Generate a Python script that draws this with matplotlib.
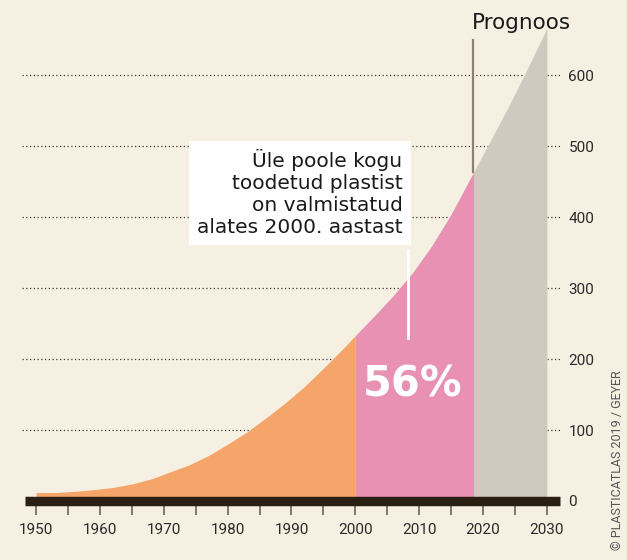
import numpy as np
import matplotlib
matplotlib.use("Agg")
import matplotlib.pyplot as plt

# cumulative plastic production (million tonnes)
years = [1950, 1953, 1956, 1959, 1962, 1965, 1968, 1971, 1974, 1977,
         1980, 1983, 1986, 1989, 1992, 1995, 1998, 2000, 2003, 2006,
         2009, 2012, 2015, 2018.5, 2021, 2024, 2027, 2030]
values = [12, 12, 13.5, 16, 19, 24, 31, 41, 51, 64,
          80, 97, 117, 138, 161, 187, 214, 233, 261, 290,
          322, 360, 404, 463, 505, 556, 610, 666]

split_2000 = 2000
split_forecast = 2018.5
share_label = "56%"
note_text = "Üle poole kogu\ntoodetud plastist\non valmistatud\nalates 2000. aastast"
forecast_label = "Prognoos"
credit = "© PLASTICATLAS 2019 / GEYER"

xticks = list(range(1950, 2031, 5))
xlabels = [str(y) if y % 10 == 0 else "" for y in xticks]
yticks = [0, 100, 200, 300, 400, 500, 600]

BG = "#f6f0e3"
ORANGE = "#f5a56a"
PINK = "#e891b3"
GREY = "#d0c9c0"
BAR = "#2b1f14"
NARROW = ["Roboto", "DejaVu Sans"]
TEXTFONT = ["DejaVu Sans"]

years = np.array(years)
values = np.array(values)

fig = plt.figure(figsize=(6.27, 5.6), dpi=100, facecolor=BG)
ax = fig.add_axes([22 / 627, 1 - 501 / 560, 538 / 627, 481 / 560])
ax.set_facecolor(BG)
ax.set_xlim(1947.8, 2032.05)
ax.set_ylim(0, 677.5)

m1 = years <= split_2000
m2 = (years >= split_2000) & (years <= split_forecast)
m3 = years >= split_forecast
ax.fill_between(years[m1], 0, values[m1], color=ORANGE, lw=0, zorder=2)
ax.fill_between(years[m2], 0, values[m2], color=PINK, lw=0, zorder=2)
ax.fill_between(years[m3], 0, values[m3], color=GREY, lw=0, zorder=2)

# dotted grid
for v in yticks[1:]:
    ax.axhline(v, color="#3a3a3a", lw=0.9, ls=(0, (1, 2)), zorder=1)

# thick baseline
ax.plot([1948.28, 2032.05], [0, 0], color=BAR, lw=6.8, solid_capstyle="butt",
        clip_on=False, zorder=4)

for s in ax.spines.values():
    s.set_visible(False)

ax.set_xticks(xticks)
ax.set_xticklabels(xlabels, fontfamily=NARROW, fontsize=11, color="#2a2a2a")
ax.tick_params(axis="x", direction="out", length=10, width=1.2, color="#6b6259", pad=6)
ax.yaxis.tick_right()
ax.set_yticks(yticks)
ax.set_yticklabels([str(v) for v in yticks], fontfamily=NARROW, fontsize=11, color="#2a2a2a")
ax.tick_params(axis="y", length=0, pad=6)

# forecast marker
y_top = values[years == split_forecast][0]
ax.plot([split_forecast, split_forecast], [y_top, 649], color="#8c8070", lw=1.6, zorder=3)
ax.text(2018.2, 673, forecast_label, ha="left", va="center", fontsize=15.5,
        fontfamily=TEXTFONT, color="#1a1a1a", clip_on=False)

# annotation box
ax.text(2007.4, 434, note_text, ha="right", va="center", fontsize=14.5,
        fontfamily=TEXTFONT, color="#1a1a1a", linespacing=1.2, zorder=5,
        bbox=dict(facecolor="white", edgecolor="none", pad=6))
ax.plot([2008.2, 2008.2], [230, 353], color="white", lw=2, zorder=3)
ax.text(2009.0, 164, share_label, ha="center", va="center", fontsize=30,
        fontweight="bold", fontfamily=TEXTFONT, color="white", zorder=5)

fig.text(618 / 627, 1 - 460 / 560, credit, rotation=90, ha="center", va="center",
         fontsize=9, fontfamily=NARROW, color="#555555")

fig.savefig("out.png", dpi=100, facecolor=BG)
